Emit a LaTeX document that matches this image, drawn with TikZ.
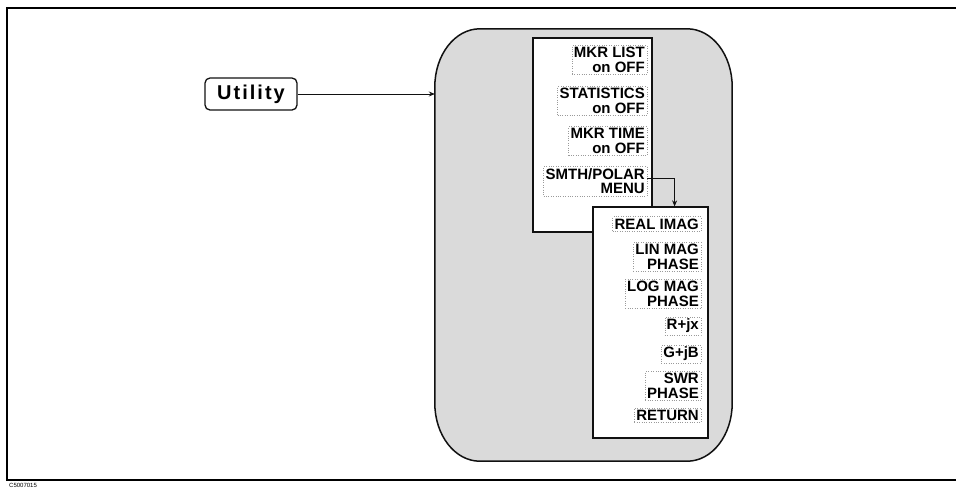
\documentclass[tikz,border=0pt]{standalone}
\usepackage{fontspec}
\setmainfont{Liberation Sans}
\setsansfont{Liberation Sans}
\newfontfamily\keyfont[LetterSpace=10]{Liberation Sans}
\usetikzlibrary{arrows.meta, positioning, calc}
\definecolor{panelbg}{HTML}{DADADA}
\definecolor{keyedge}{HTML}{111111}
\definecolor{dotedge}{HTML}{9A9A9A}

\begin{document}
\begin{tikzpicture}[
    x=1pt, y=-1pt,
    >={Stealth[length=6pt, width=5pt]},
    hardkey/.style={
        rectangle, rounded corners=5pt, draw=keyedge, line width=1.3pt,
        minimum width=92pt, minimum height=32pt, inner sep=0pt,
        font=\keyfont\fontsize{20}{20}\selectfont\bfseries
    },
    panelshape/.style={draw=keyedge, line width=1.5pt, fill=panelbg},
    menubox/.style={
        rectangle, draw=keyedge, line width=1.2pt, fill=white, inner sep=0pt
    },
    softkey/.style={
        anchor=east, align=right, inner sep=2pt,
        draw=dotedge, dotted, line width=0.4pt,
        font=\fontsize{15}{14.5}\selectfont\bfseries
    },
    link/.style={->, line width=1pt, color=keyedge},
]
\useasboundingbox (0,0) rectangle (956,491);

%% ============ FRAME ============
\draw[line width=1.6pt] (956,8) -- (7,8) -- (7,480) -- (956,480);
\node[anchor=north west, inner sep=0pt, font=\fontsize{6}{6}\selectfont] (figid) at (9,483) {C5007015};

%% ============ FRONT-PANEL KEY ============
\node[hardkey] (utility) at (251,94) {Utility};

%% ============ SOFTKEY PANEL ============
% anchors only; outline has oval corners (rx=45, ry=58)
\node[minimum width=297pt, minimum height=432pt, inner sep=0pt] (panel) at (583.5,245) {};
\draw[panelshape]
    ([xshift=45pt]panel.north west) -- ([xshift=-45pt]panel.north east)
    arc[start angle=90, end angle=0, x radius=45pt, y radius=58pt]
    -- ([yshift=58pt]panel.south east)
    arc[start angle=0, end angle=-90, x radius=45pt, y radius=58pt]
    -- ([xshift=45pt]panel.south west)
    arc[start angle=270, end angle=180, x radius=45pt, y radius=58pt]
    -- ([yshift=-58pt]panel.north west)
    arc[start angle=180, end angle=90, x radius=45pt, y radius=58pt]
    -- cycle;

% first menu
\node[menubox, minimum width=119pt, minimum height=194pt] (menuA) at (592.5,135) {};
\node[softkey] (mkrlist) at (647,60)  {MKR LIST\\on OFF};
\node[softkey] (stats)   at (647,101) {STATISTICS\\on OFF};
\node[softkey] (mkrtime) at (647,141) {MKR TIME\\on OFF};
\node[softkey] (smth)    at (647,181) {SMTH/POLAR\\MENU};

% second menu (smith / polar)
\node[menubox, minimum width=115pt, minimum height=231pt] (menuB) at (650.5,322.5) {};
\node[softkey] (realimag) at (701,224) {REAL IMAG};
\node[softkey] (linmag)   at (701,257) {LIN MAG\\PHASE};
\node[softkey] (logmag)   at (701,294) {LOG MAG\\PHASE};
\node[softkey] (rjx)      at (701,326) {R+jx};
\node[softkey] (gjb)      at (701,354) {G+jB};
\node[softkey] (swr)      at (701,386) {SWR\\PHASE};
\node[softkey] (return)   at (701,415) {RETURN};

%% ============ EDGES ============
\draw[link] (utility.east) -- (utility.east -| panel.west);
\draw[link] ([yshift=3pt]smth.east) -| ([xshift=-34pt]menuB.north east);

\end{tikzpicture}
\end{document}
